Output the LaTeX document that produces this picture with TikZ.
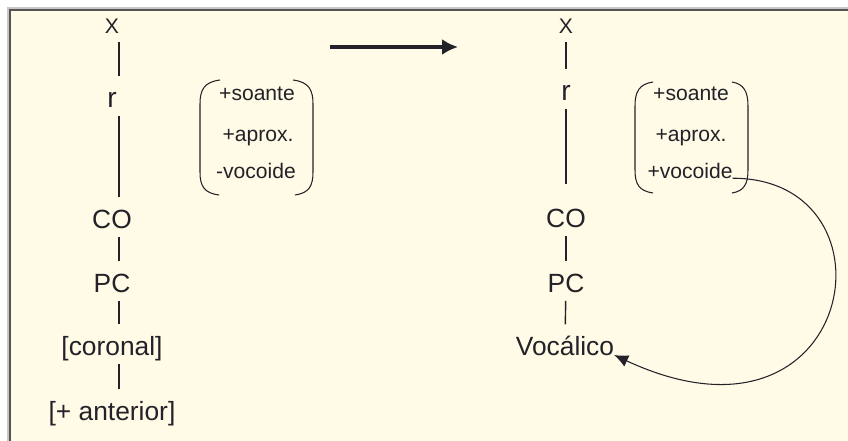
\documentclass[tikz,border=0pt]{standalone}
\usepackage{fontspec}
\setmainfont{Liberation Sans}
\usepackage{tikz}
\usetikzlibrary{arrows.meta}
\definecolor{paper}{RGB}{255,251,231}
\definecolor{framegray}{RGB}{85,85,85}
\definecolor{inkgray}{RGB}{34,34,40}

\begin{document}
\begin{tikzpicture}[x=0.02cm,y=-0.02cm,
  tier/.style={inner sep=0pt,outer sep=0pt,anchor=base,text height=17.5pt,text depth=5pt,font=\fontsize{15}{18}\selectfont,text=inkgray},
  feat/.style={inner sep=0pt,outer sep=0pt,anchor=base,font=\fontsize{12}{14}\selectfont,text=inkgray},
  stem/.style={line width=0.8pt,draw=inkgray},
  shiftstem/.style={stem,transform canvas={xshift=0.14cm}},
  paren/.style={line width=0.6pt,draw=inkgray}]
\useasboundingbox (0,0) rectangle (848,440);
\clip (0,0) rectangle (848,440);
\fill[white] (0,0) rectangle (848,440);
% frame
\fill[paper] (9,9) rectangle (870,460);
\draw[gray!45,line width=0.6pt] (8,8) rectangle (870,460);
\draw[framegray,line width=1.1pt] (10,10) rectangle (870,460);
% left tree
\node[tier,font=\fontsize{12}{14}\selectfont] (xL) at (112,33) {X};
\node[tier,font=\fontsize{16}{19}\selectfont] (rL) at (112,107) {r};
\node[tier] (coL) at (112,228) {CO};
\node[tier] (pcL) at (112,292) {PC};
\node[tier] (corL) at (112,355) {[coronal]};
\node[tier] (antL) at (112,420) {[+ anterior]};
\draw[shiftstem] (xL) -- (rL);
\draw[shiftstem] (rL) -- (coL);
\draw[shiftstem] (coL) -- (pcL);
\draw[shiftstem] (pcL) -- (corL);
\draw[shiftstem] (corL) -- (antL);
% left features
\node[feat] (sL) at (257,100) {+soante};
\node[feat] (aL) at (258,141) {+aprox.};
\node[feat] (vL) at (256,178) {-vocoide};
\draw[paren] (220,80) .. controls (204,82) and (200,90) .. (200,104) -- (200,172) .. controls (200,186) and (204,193) .. (219,195);
\draw[paren] (293,80) .. controls (309,82) and (313,90) .. (313,104) -- (313,172) .. controls (313,186) and (309,193) .. (295,195);
% arrow
\coordinate (arrS) at (330,47);
\coordinate (arrE) at (458,47);
\draw[inkgray,line width=2pt,-{Latex[length=9pt,width=9pt]}] (arrS) -- (arrE);
% right tree
\node[tier,font=\fontsize{12}{14}\selectfont] (xR) at (566,33) {X};
\node[tier,font=\fontsize{16}{19}\selectfont] (rR) at (566,100) {r};
\node[tier] (coR) at (566,227) {CO};
\node[tier] (pcR) at (566,292) {PC};
\node[tier] (vocal) at (565,355) {Vocálico};
\draw[stem] (xR) -- (rR);
\draw[stem,shorten >=7pt] (rR) -- (coR);
\draw[stem] (coR) -- (pcR);
\draw[stem] (pcR) -- (vocal);
% right features
\node[feat] (sR) at (691,100) {+soante};
\node[feat] (aR) at (691,141) {+aprox.};
\node[feat] (vR) at (690,178) {+vocoide};
\draw[paren] (653,82) .. controls (639,84) and (635,92) .. (635,106) -- (635,170) .. controls (635,184) and (639,191) .. (653,193);
\draw[paren] (732,82) .. controls (744,84) and (748,92) .. (748,106) -- (748,170) .. controls (748,184) and (744,191) .. (732,193);
% spreading
\draw[paren,-{Latex[length=8pt,width=7pt]}] (vR.south east) .. controls +(172,0) and +(243,113) .. (vocal.base east);
\end{tikzpicture}
\end{document}
